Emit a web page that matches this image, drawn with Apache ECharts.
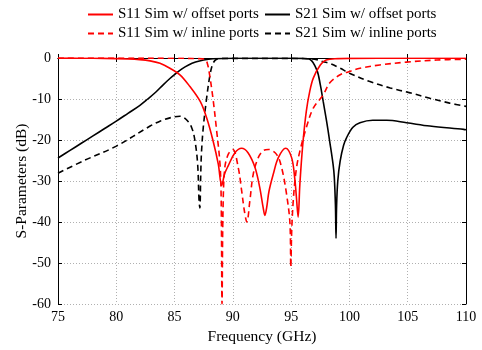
<!DOCTYPE html>
<html>
<head>
<meta charset="utf-8">
<script src="https://cdn.jsdelivr.net/npm/echarts@6/dist/echarts.min.js"></script>
<style>
html,body{margin:0;padding:0;background:#fff;}
#chart{width:482px;height:350px;}
</style>
</head>
<body>
<div id="chart"></div>
<script>
// ---- Data (frequency in GHz, magnitude in dB) ----
const seriesNames = ['S11 Sim w/ offset ports', 'S11 Sim w/ inline ports', 'S21 Sim w/ offset ports', 'S21 Sim w/ inline ports'];

const s11OffsetFreq = [75, 77, 79, 81, 82, 82.9, 83.75, 84.6, 85.46, 86.3, 87.2, 87.75, 88.3, 88.75, 89.04, 89.3, 89.6, 90.18, 90.75, 91.3, 91.9, 92.3, 92.6, 92.75, 92.9, 93.1, 93.47, 93.9, 94.53, 95.04, 95.3, 95.45, 95.6, 95.75, 96.0, 96.3, 96.6, 96.9, 97.5, 98.0, 99, 100, 105, 110];
const s11OffsetDb   = [-0.02, -0.05, -0.1, -0.25, -0.4, -0.7, -1.3, -2.5, -4.1, -6.9, -10.6, -14.6, -20.2, -25.9, -31.1, -28.2, -26.3, -23.1, -22.0, -23.1, -26.7, -31.5, -36.5, -38.4, -36.5, -32.5, -28.3, -24.3, -22.0, -24.3, -29.1, -33.9, -38.8, -30.7, -21.0, -13.0, -8.1, -4.9, -1.7, -0.5, -0.15, -0.08, -0.05, -0.05];

const s11InlineFreq = [75, 80, 85, 87, 87.6, 87.8, 88.0, 88.3, 88.6, 88.9, 89.0, 89.07, 89.15, 89.3, 89.6, 90.0, 90.46, 90.75, 91.0, 91.2, 91.46, 91.75, 92.18, 92.6, 93.04, 93.75, 94.18, 94.6, 94.9, 94.97, 95.05, 95.2, 95.45, 95.75, 96.3, 96.9, 97.75, 98.3, 99.2, 100, 100.9, 102.6, 104.9, 107.5, 110];
const s11InlineDb   = [-0.02, -0.03, -0.05, -0.15, -0.3, -1.2, -4.0, -10.0, -17.5, -26.0, -35.0, -60.0, -38.0, -27.0, -23.5, -22.3, -26.7, -32.3, -37.5, -40.0, -34.8, -28.3, -24.3, -22.6, -22.3, -23.5, -26.7, -33.1, -40.4, -51.0, -42.0, -34.0, -27.0, -22.7, -17.0, -12.2, -9.0, -6.1, -4.1, -3.3, -2.5, -1.7, -1.0, -0.5, -0.3];

const s21OffsetFreq = [75, 76, 77, 78, 79, 80, 81, 82, 82.7, 83.4, 84.0, 84.6, 85.1, 85.6, 86.2, 86.8, 87.5, 88.3, 90, 95, 96, 96.6, 97.2, 97.5, 97.75, 98.04, 98.3, 98.6, 98.7, 98.8, 98.85, 98.9, 99.0, 99.2, 99.5, 99.76, 100.3, 100.9, 102, 103.2, 104.9, 106.9, 109.8, 110];
const s21OffsetDb   = [-24.4, -22.6, -20.8, -19.0, -17.2, -15.4, -13.5, -11.6, -10.0, -8.3, -6.6, -5.0, -3.8, -2.7, -1.7, -1.0, -0.5, -0.2, -0.05, -0.05, -0.1, -0.3, -2.9, -6.5, -10.6, -15.4, -20.2, -26.0, -29.0, -36.0, -44.0, -36.0, -30.0, -25.2, -21.3, -19.4, -16.9, -15.8, -15.2, -15.2, -15.8, -16.6, -17.4, -17.5];

const s21InlineFreq = [75, 77.17, 80, 82.9, 83.75, 84.6, 85.46, 86.0, 86.47, 86.75, 86.98, 87.1, 87.17, 87.24, 87.3, 87.46, 87.75, 88.04, 88.3, 88.6, 89, 95, 96.5, 97.2, 97.75, 98.3, 99.2, 100, 101.7, 103.5, 105.2, 106.9, 108.6, 110];
const s21InlineDb   = [-28.1, -25.1, -21.5, -16.6, -15.4, -14.6, -14.2, -15.0, -17.0, -20.2, -25.9, -34.8, -36.6, -29.0, -23.5, -17.0, -9.8, -4.1, -1.3, -0.3, -0.1, -0.1, -0.2, -0.4, -0.9, -1.3, -2.5, -3.7, -5.7, -7.3, -8.5, -9.8, -11.0, -11.8];

const xTicks = [75, 80, 85, 90, 95, 100, 105, 110];
const yTicks = [-60, -50, -40, -30, -20, -10, 0];

// ---- Build ----
function pairs(f, d) { return f.map((x, i) => [x, d[i]]); }
const FONT = '"Liberation Serif", "Times New Roman", serif';

const styles = [
  { color: '#ff0000', type: 'solid' },
  { color: '#ff0000', type: [6, 4] },
  { color: '#000000', type: 'solid' },
  { color: '#000000', type: [6, 4] }
];
const datasets = [
  pairs(s11OffsetFreq, s11OffsetDb),
  pairs(s11InlineFreq, s11InlineDb),
  pairs(s21OffsetFreq, s21OffsetDb),
  pairs(s21InlineFreq, s21InlineDb)
];

const series = seriesNames.map((name, i) => ({
  name: name,
  type: 'line',
  data: datasets[i],
  showSymbol: false,
  symbol: 'none',
  smooth: 0.35,
  clip: true,
  xAxisIndex: 0,
  yAxisIndex: 0,
  itemStyle: { color: styles[i].color },
  lineStyle: { color: styles[i].color, width: 1.6, type: styles[i].type },
  emphasis: { disabled: true },
  z: i < 2 ? 3 : 2
}));

const chart = echarts.init(document.getElementById('chart'), null, { renderer: 'canvas' });

const axisLabelStyle = { color: '#000', fontFamily: FONT, fontSize: 14 };
const legendBase = {
  orient: 'vertical', top: 7, padding: 0,
  itemWidth: 25, itemHeight: 14, itemGap: 4,
  itemStyle: { opacity: 0 },
  textStyle: { color: '#000', fontFamily: FONT, fontSize: 15 },
  selectedMode: false
};

chart.setOption({
  animation: false,
  backgroundColor: '#fff',
  legend: [
    Object.assign({ data: [seriesNames[0], seriesNames[1]], left: 87 }, legendBase),
    Object.assign({ data: [seriesNames[2], seriesNames[3]], left: 264 }, legendBase)
  ],
  grid: { left: 58, right: 16, top: 58, bottom: 44, containLabel: false },
  xAxis: [
    {
      type: 'value', min: 75, max: 110, interval: 5,
      name: 'Frequency (GHz)', nameLocation: 'middle', nameGap: 25, nameMoveOverlap: false,
      nameTextStyle: { color: '#000', fontFamily: FONT, fontSize: 15.5 },
      axisLine: { show: true, lineStyle: { color: '#000', width: 1 } },
      axisTick: { show: true, inside: true, length: 4, lineStyle: { color: '#000' } },
      axisLabel: Object.assign({ margin: 6, formatter: v => xTicks.includes(v) ? String(v) : '' }, axisLabelStyle),
      splitLine: { show: true, lineStyle: { color: '#b0b0b0', type: [1, 2], width: 1 } }
    },
    {
      type: 'value', min: 75, max: 110, interval: 5, position: 'top',
      axisLine: { show: true, lineStyle: { color: '#000', width: 1 } },
      axisTick: { show: true, inside: true, length: 4, lineStyle: { color: '#000' } },
      axisLabel: { show: false },
      splitLine: { show: false }
    }
  ],
  yAxis: [
    {
      type: 'value', min: -60, max: 0, interval: 10,
      name: 'S-Parameters (dB)', nameLocation: 'middle', nameGap: 28, nameMoveOverlap: false,
      nameTextStyle: { color: '#000', fontFamily: FONT, fontSize: 15.5 },
      axisLine: { show: true, lineStyle: { color: '#000', width: 1 } },
      axisTick: { show: true, inside: true, length: 4, lineStyle: { color: '#000' } },
      axisLabel: Object.assign({ margin: 7, formatter: v => yTicks.includes(v) ? String(v) : '' }, axisLabelStyle),
      splitLine: { show: true, lineStyle: { color: '#b0b0b0', type: [1, 2], width: 1 } }
    },
    {
      type: 'value', min: -60, max: 0, interval: 10, position: 'right',
      axisLine: { show: true, lineStyle: { color: '#000', width: 1 } },
      axisTick: { show: true, inside: true, length: 4, lineStyle: { color: '#000' } },
      axisLabel: { show: false },
      splitLine: { show: false }
    }
  ],
  series: series
});
</script>
</body>
</html>
